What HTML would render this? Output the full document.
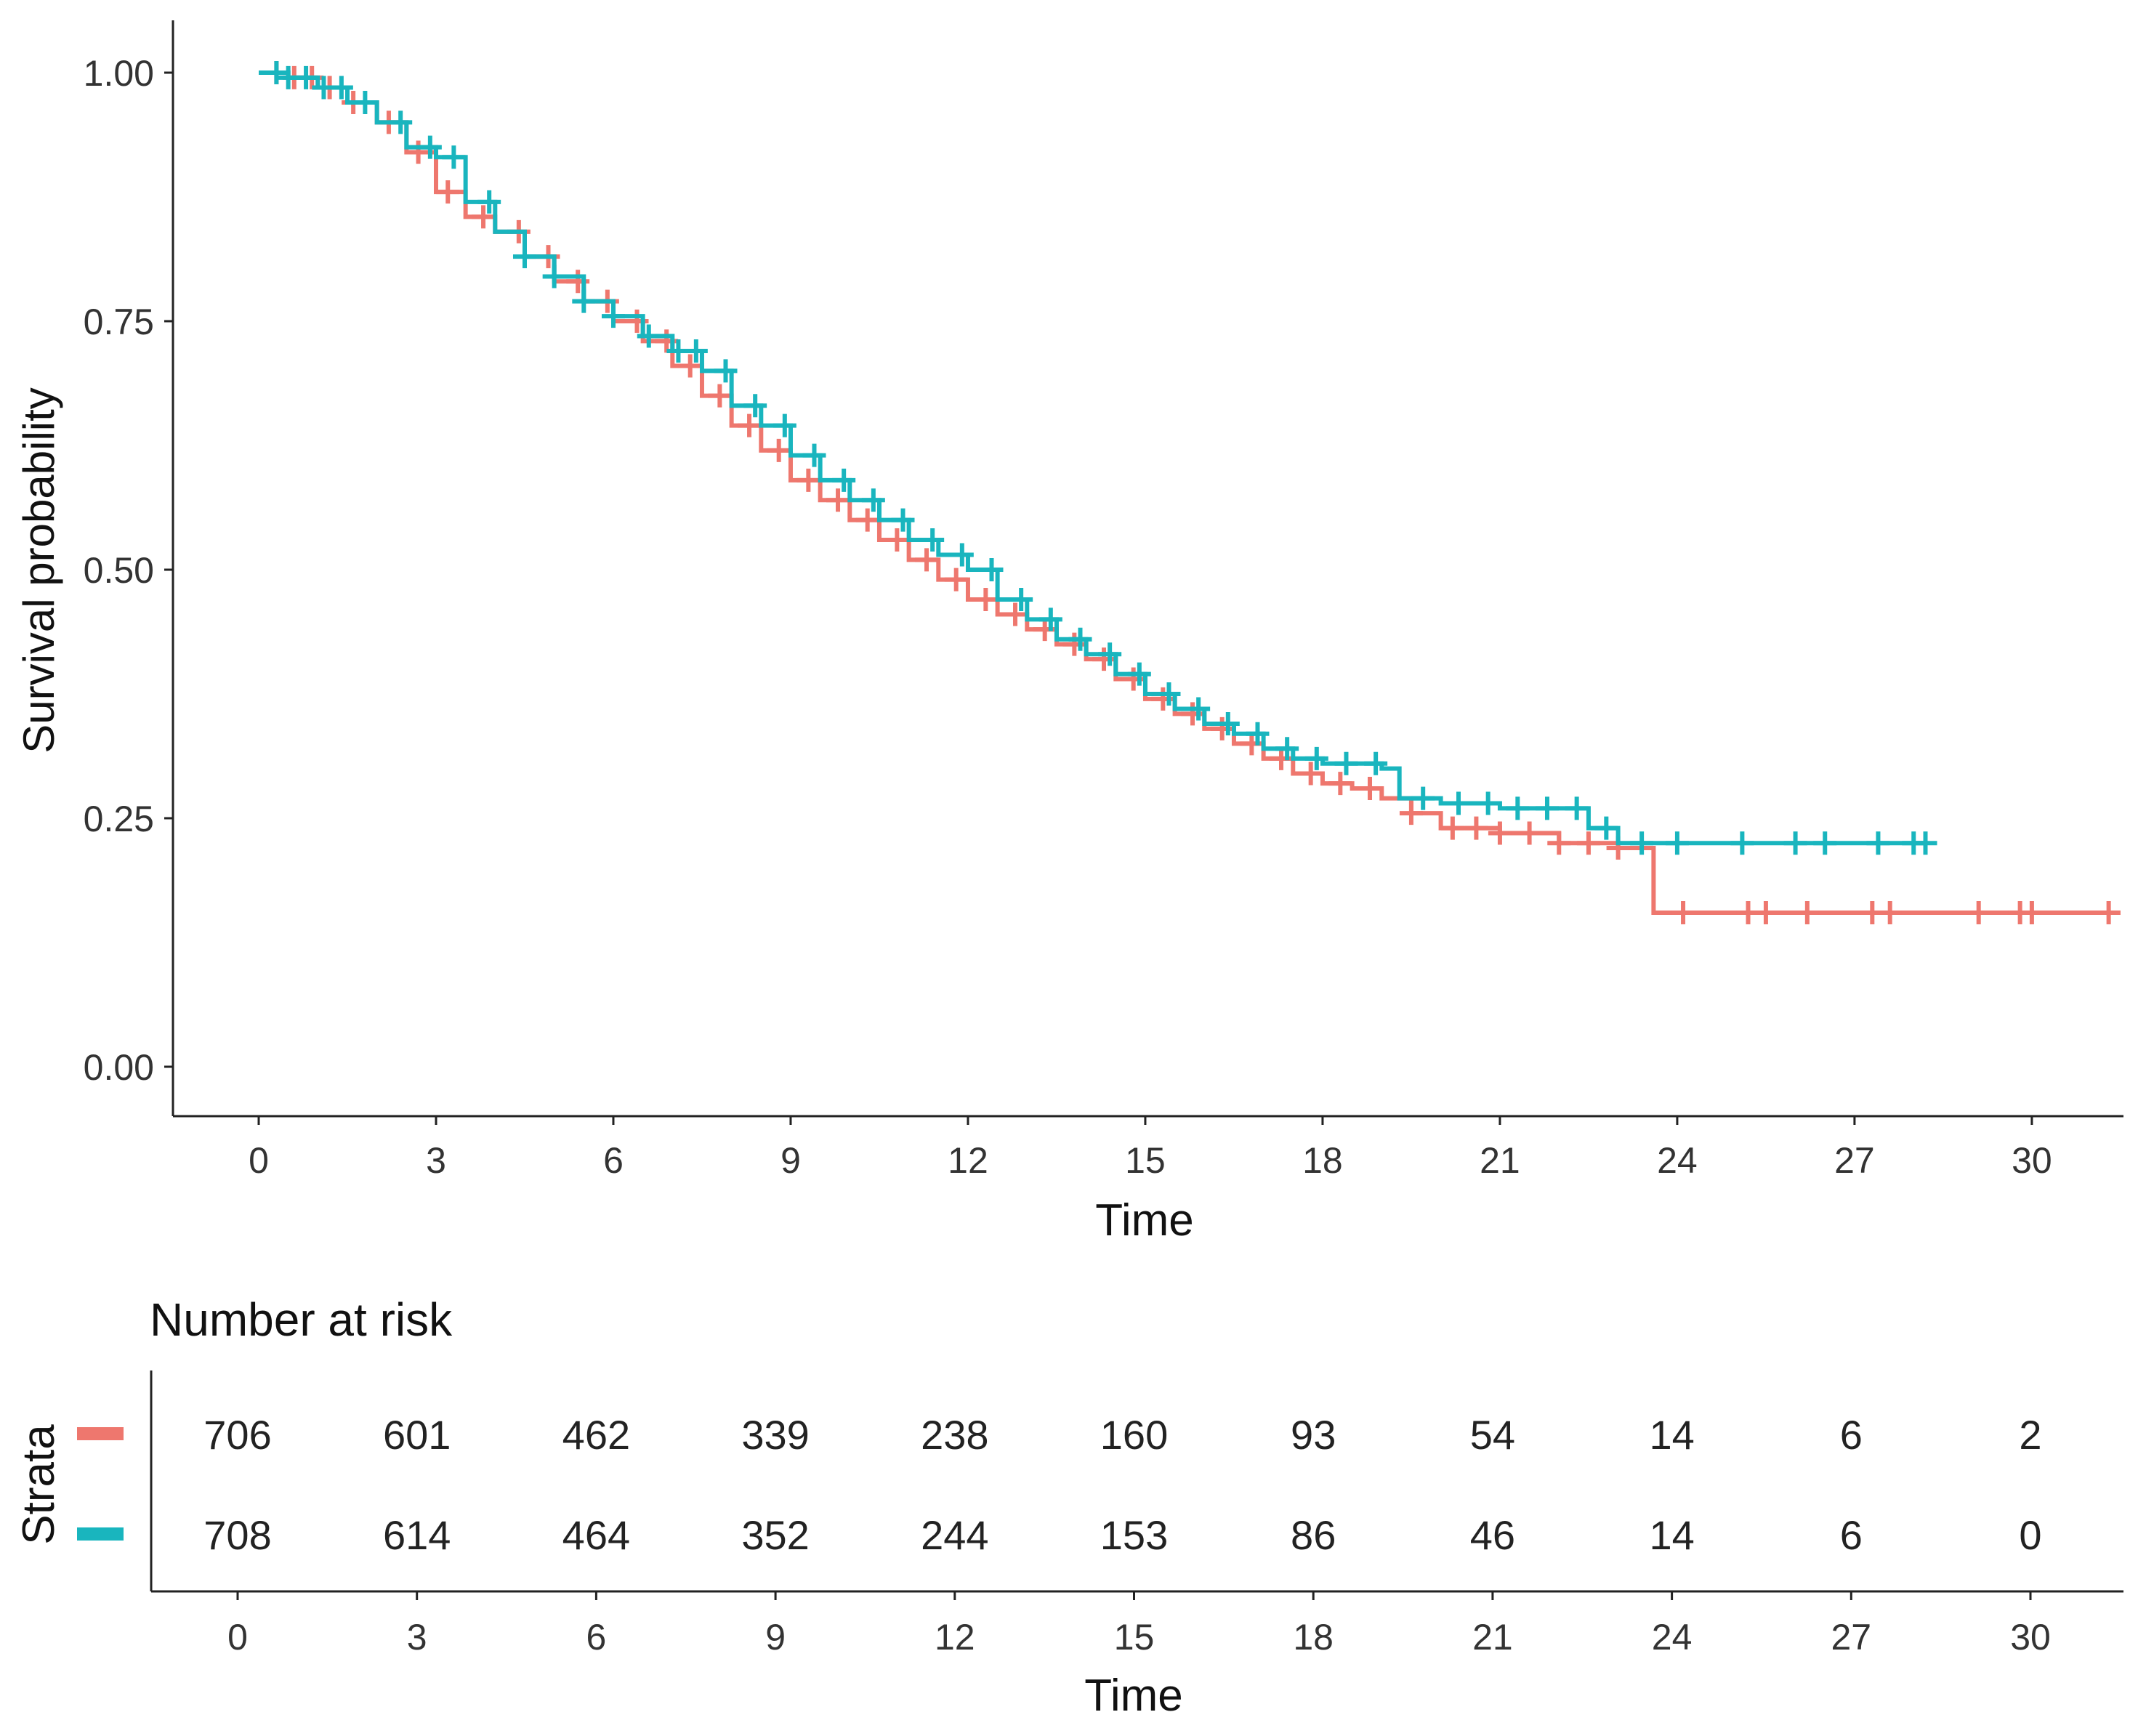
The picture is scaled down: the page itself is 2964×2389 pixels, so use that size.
<!DOCTYPE html>
<html><head><meta charset="utf-8"><style>
html,body{margin:0;padding:0;background:#fff;}
svg{display:block;font-family:"Liberation Sans",sans-serif;}
</style></head><body>
<svg id="chart" width="2964" height="2389" viewBox="0 0 2964 2389" xmlns="http://www.w3.org/2000/svg">
<rect x="0" y="0" width="2964" height="2389" fill="#fff"/>
<g id="plot"></g>
<g id="table"></g>
</svg>
<script>
const redT=[0,0.5,1,1.5,2,2.5,3,3.5,4,4.5,5,5.5,6,6.5,7,7.5,8,8.5,9,9.5,10,10.5,11,11.5,12,12.5,13,13.5,14,14.5,15,15.5,16,16.5,17,17.5,18,18.5,19,19.5,20,21,22,23,23.6];
const redS=[1,0.995,0.985,0.97,0.95,0.92,0.88,0.855,0.84,0.815,0.79,0.77,0.75,0.73,0.705,0.675,0.645,0.62,0.59,0.57,0.55,0.53,0.51,0.49,0.47,0.455,0.44,0.425,0.41,0.39,0.37,0.355,0.34,0.325,0.31,0.295,0.285,0.28,0.27,0.255,0.24,0.235,0.225,0.22,0.155];
const redEnd=31.5;
const blueT=[0,0.5,1,1.5,2,2.5,3,3.5,4,4.5,5,5.5,6,6.5,7,7.5,8,8.5,9,9.5,10,10.5,11,11.5,12,12.5,13,13.5,14,14.5,15,15.5,16,16.5,17,17.5,18,19,19.3,20,21,22,22.5,23];
const blueS=[1,0.995,0.985,0.97,0.95,0.925,0.915,0.87,0.84,0.815,0.795,0.77,0.755,0.735,0.72,0.70,0.665,0.645,0.615,0.59,0.57,0.55,0.53,0.515,0.50,0.47,0.45,0.43,0.415,0.395,0.375,0.36,0.345,0.335,0.32,0.31,0.305,0.30,0.27,0.265,0.26,0.26,0.24,0.225];
const blueEnd=28.2;
const redCens=[0.3,0.6,0.9,1.2,1.6,2.2,2.7,3.2,3.8,4.4,4.9,5.4,5.9,6.4,6.9,7.3,7.8,8.3,8.8,9.3,9.8,10.3,10.8,11.3,11.8,12.3,12.8,13.3,13.8,14.3,14.8,15.3,15.8,16.3,16.8,17.3,17.8,18.3,18.8,19.5,20.2,20.6,21.0,21.5,22.0,22.5,23.0,24.1,25.2,25.5,26.2,27.3,27.6,29.1,29.8,30.0,31.3];
const blueCens=[0.3,0.5,0.8,1.1,1.4,1.8,2.4,2.9,3.3,3.9,4.5,5.0,5.5,6.0,6.6,7.1,7.4,7.9,8.4,8.9,9.4,9.9,10.4,10.9,11.4,11.9,12.4,12.9,13.4,13.9,14.4,14.9,15.4,15.9,16.4,16.9,17.4,17.9,18.4,18.9,19.7,20.3,20.8,21.3,21.8,22.3,22.8,23.4,24.0,25.1,26.0,26.5,27.4,28.0,28.2];
const xTicks=[0,3,6,9,12,15,18,21,24,27,30];
const yTicks=[0,0.25,0.5,0.75,1];
const yTickLabels=["0.00","0.25","0.50","0.75","1.00"];
const riskRed=[706,601,462,339,238,160,93,54,14,6,2];
const riskBlue=[708,614,464,352,244,153,86,46,14,6,0];

const NS="http://www.w3.org/2000/svg";
const RED="#EE776E", BLUE="#19B5BE";
function el(tag,attrs,parent,text){const e=document.createElementNS(NS,tag);for(const k in attrs)e.setAttribute(k,attrs[k]);if(text!==undefined)e.textContent=text;parent.appendChild(e);return e;}
const plot=document.getElementById('plot');
const table=document.getElementById('table');
const xS=t=>356+t*81.33;
const yS=s=>1468-s*1368;
const xT=t=>327+t*(2794-327)/30;

let a=el('line',{x1:238,y1:28,x2:238,y2:1536,stroke:'#222','stroke-width':3},plot);


a=el('line',{x1:238,y1:1536,x2:2922,y2:1536,stroke:'#222','stroke-width':3},plot);


yTicks.forEach((v,i)=>{
  el('line',{x1:226,y1:yS(v),x2:238,y2:yS(v),stroke:'#222','stroke-width':3},plot);
  const t=el('text',{x:212,y:yS(v)+18,'font-size':50,'text-anchor':'end',fill:'#333'},plot,yTickLabels[i]);
  
  
});
xTicks.forEach(v=>{
  el('line',{x1:xS(v),y1:1536,x2:xS(v),y2:1548,stroke:'#222','stroke-width':3},plot);
  const t=el('text',{x:xS(v),y:1614,'font-size':50,'text-anchor':'middle',fill:'#333'},plot,String(v));
  
  
});
let lab=el('text',{x:1575,y:1700,'font-size':62,'text-anchor':'middle',fill:'#111'},plot,'Time');


lab=el('text',{x:0,y:0,'font-size':60,'text-anchor':'middle',fill:'#111',transform:'translate(74,785) rotate(-90)'},plot,'Survival probability');



function stepVal(T,S,t){let v=S[0];for(let i=0;i<T.length;i++){if(T[i]<=t)v=S[i];}return v;}
function drawCurve(T,S,end,cens,color,name){
  let d='M'+xS(T[0])+','+yS(S[0]);
  for(let i=1;i<T.length;i++){d+=' H'+xS(T[i])+' V'+yS(S[i]);}
  d+=' H'+xS(end);
  const p=el('path',{d:d,fill:'none',stroke:color,'stroke-width':6},plot);
  
  
  cens.forEach(c=>{
    const x=xS(c),y=yS(stepVal(T,S,c));
    const m=el('path',{d:`M${x-16},${y} H${x+16} M${x},${y-16} V${y+16}`,stroke:color,'stroke-width':6,fill:'none'},plot);
    
    
  });
}
drawCurve(redT,redS,redEnd,redCens,RED,'red');
drawCurve(blueT,blueS,blueEnd,blueCens,BLUE,'blue');

lab=el('text',{x:206,y:1838,'font-size':64,fill:'#111'},table,'Number at risk');


el('line',{x1:208,y1:1886,x2:208,y2:2190,stroke:'#222','stroke-width':3},table);
el('line',{x1:208,y1:2190,x2:2922,y2:2190,stroke:'#222','stroke-width':3},table);
xTicks.forEach((v,i)=>{
  el('line',{x1:xT(v),y1:2190,x2:xT(v),y2:2202,stroke:'#222','stroke-width':3},table);
  let t=el('text',{x:xT(v),y:2270,'font-size':50,'text-anchor':'middle',fill:'#333'},table,String(v));
  
  
  t=el('text',{x:xT(v),y:1994,'font-size':56,'text-anchor':'middle',fill:'#222'},table,String(riskRed[i]));
  
  
  t=el('text',{x:xT(v),y:2132,'font-size':56,'text-anchor':'middle',fill:'#222'},table,String(riskBlue[i]));
  
  
});
lab=el('text',{x:1560,y:2354,'font-size':62,'text-anchor':'middle',fill:'#111'},table,'Time');


lab=el('text',{x:0,y:0,'font-size':62,'text-anchor':'middle',fill:'#111',transform:'translate(74,2043) rotate(-90)'},table,'Strata');


let r=el('rect',{x:106,y:1964,width:64,height:18,fill:RED},table);


r=el('rect',{x:106,y:2102,width:64,height:18,fill:BLUE},table);


</script>
</body></html>
